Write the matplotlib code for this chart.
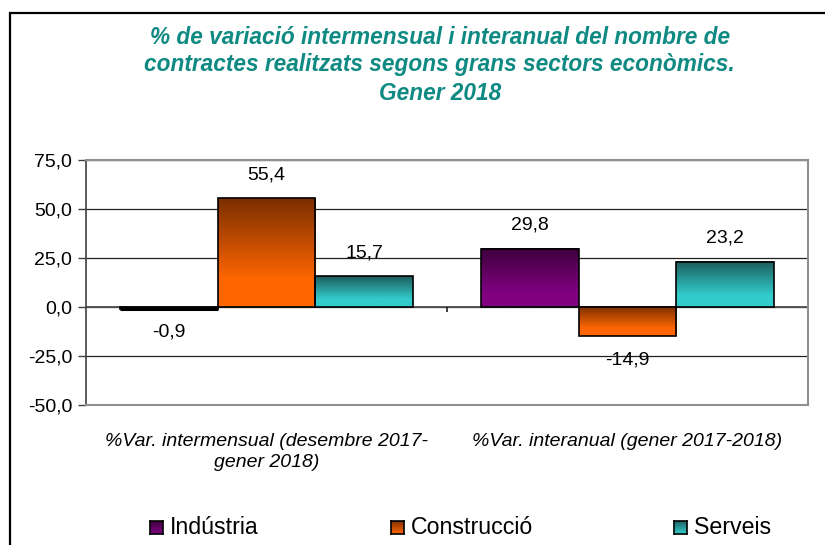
import numpy as np
import matplotlib
matplotlib.use('Agg')
import matplotlib.pyplot as plt
from matplotlib.colors import LinearSegmentedColormap
from matplotlib.patches import Rectangle

plt.rcParams['font.family'] = ['Liberation Sans', 'DejaVu Sans']

# ------------------------------------------------------------------------
# Data
categories = ['%Var. intermensual (desembre 2017-\ngener 2018)',
              '%Var. interanual (gener 2017-2018)']
series = ['Indústria', 'Construcció', 'Serveis']
industria = [-0.9, 29.8]
construccio = [55.4, -14.9]
serveis = [15.7, 23.2]
values = [industria, construccio, serveis]
y_ticks = [-50, -25, 0, 25, 50, 75]
# ------------------------------------------------------------------------

# gradient colours (top dark -> bottom light)
grad_colors = [('#3c003c', '#800080'),
               ('#7a2e00', '#ff6600'),
               ('#1c5c5c', '#33cccc')]
title_color = '#0f8a82'

fig = plt.figure(figsize=(8.25, 5.45), dpi=100)
fig.set_facecolor('white')
ax = fig.add_axes([86 / 825, 1 - 405 / 545, 722 / 825, 245 / 545])

x = np.arange(len(categories))
width = 0.27
grad = np.linspace(0, 1, 256).reshape(-1, 1)

for i, (vals, (c_top, c_bot)) in enumerate(zip(values, grad_colors)):
    cmap = LinearSegmentedColormap.from_list('g%d' % i, [(0, c_top), (0.75, c_bot), (1, c_bot)])
    bars = ax.bar(x + (i - 1) * width, vals, width, color='none',
                  edgecolor='black', linewidth=1.2, zorder=4)
    for b, v in zip(bars, vals):
        x0 = b.get_x()
        y0, y1 = min(0, v), max(0, v)
        ax.imshow(grad, cmap=cmap, aspect='auto', origin='upper',
                  extent=(x0, x0 + width, y0, y1), zorder=3)
        if abs(v) < 2:
            ax.plot([x0, x0 + width], [v, v], color='black', lw=2.2, zorder=5,
                    solid_capstyle='butt')
        off = 17 if v >= 0 else -17
        ax.annotate(('%.1f' % v).replace('.', ','), (x0 + width / 2, v),
                    xytext=(0, off), textcoords='offset points',
                    ha='center', va='center', fontsize=14, color='black')

ax.set_xlim(-0.5, 1.5)
ax.set_ylim(-50, 75)
ax.set_yticks(y_ticks)
ax.set_yticklabels([('%.1f' % t).replace('.', ',') for t in y_ticks], fontsize=14)
ax.set_xticks(x)
ax.set_xticklabels(categories, fontsize=14, style='italic', linespacing=1.3)
ax.tick_params(axis='x', length=0, pad=20)
ax.tick_params(axis='y', length=6, width=1, color='#404040', pad=4)

ax.grid(axis='y', color='#202020', linewidth=0.9)
ax.set_axisbelow(True)
for s in ['top', 'right', 'bottom']:
    ax.spines[s].set_color('#909090')
    ax.spines[s].set_linewidth(1.5)
ax.spines['left'].set_color('#404040')
ax.spines['left'].set_linewidth(1.2)

# category axis at zero
ax.axhline(0, color='#505050', linewidth=1.3, zorder=2)
ax.vlines([0.5, 1.5], -2.5, 0, color='#202020', linewidth=1.2, clip_on=False)

# title
title_lines = ['% de variació intermensual i interanual del nombre de',
               'contractes realitzats segons grans sectors econòmics.',
               'Gener 2018']
for line, ty in zip(title_lines, [38, 65, 93]):
    fig.text(0.533, 1 - ty / 545, line, ha='center', va='center', fontsize=16.3,
             fontweight='bold', style='italic', color=title_color)

# legend with gradient squares
leg_x = [150, 391, 674]
for name, (c_top, c_bot), lx in zip(series, grad_colors, leg_x):
    lax = fig.add_axes([lx / 825, 1 - 534 / 545, 13 / 825, 13 / 545])
    lcmap = LinearSegmentedColormap.from_list('l' + name, [c_top, c_bot])
    lax.imshow(grad, cmap=lcmap, aspect='auto')
    lax.set_xticks([])
    lax.set_yticks([])
    for s in lax.spines.values():
        s.set_linewidth(1.2)
    fig.text((lx + 20) / 825, 1 - 527 / 545, name, ha='left', va='center',
             fontsize=16.7)

# outer frame
fig.patches.append(Rectangle((10 / 825, -0.1), 1.2, 1.1 - 13 / 545,
                             transform=fig.transFigure, fill=False,
                             edgecolor='black', linewidth=1.6))

plt.savefig('out.png', dpi=100)
